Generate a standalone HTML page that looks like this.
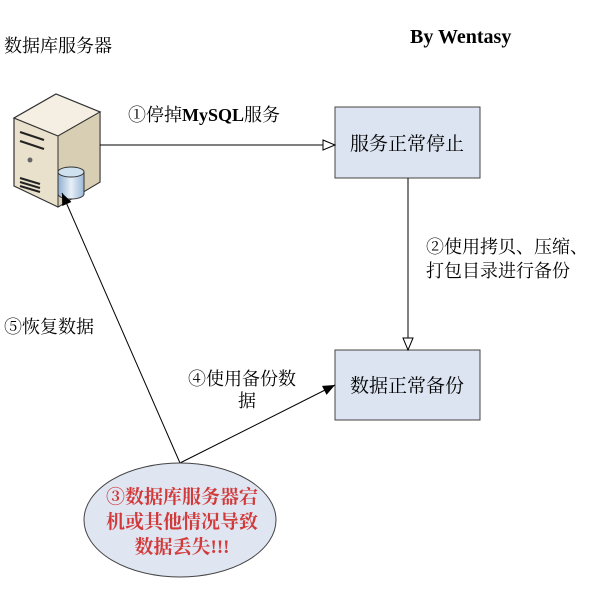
<!DOCTYPE html>
<html><head><meta charset="utf-8"><style>
body{margin:0;background:#fff;}
svg text{font-family:"Liberation Serif","Noto Serif CJK SC","Noto Sans CJK SC",serif;}
</style></head><body>
<svg width="600" height="600" viewBox="0 0 600 600" xmlns="http://www.w3.org/2000/svg">
<defs>
<linearGradient id="cyl" x1="0" x2="1"><stop offset="0" stop-color="#8fb0d0"/><stop offset="0.5" stop-color="#e8f0f8"/><stop offset="1" stop-color="#9ab8d6"/></linearGradient>
<marker id="open" markerWidth="14" markerHeight="12" refX="13" refY="6" orient="auto" markerUnits="userSpaceOnUse"><path d="M1,1 L13,6 L1,11 Z" fill="#fff" stroke="#000" stroke-width="1"/></marker>
<marker id="fill" markerWidth="14" markerHeight="12" refX="13" refY="6" orient="auto" markerUnits="userSpaceOnUse"><path d="M1,1 L13,6 L1,11 Z" fill="#000"/></marker>
</defs>
<text x="4" y="52" font-size="18" font-family="Noto Sans CJK SC,sans-serif">数据库服务器</text>
<text x="410" y="43" font-size="20" font-weight="bold">By Wentasy</text>
<!-- server -->
<path d="M14,118 L56,94 L100,112 L100,182 L58,207 L14,186 Z" fill="#e9e1cc" stroke="#333" stroke-width="1.2"/>
<path d="M14,118 L56,94 L100,112 L58,136 Z" fill="#f4efe2" stroke="#333" stroke-width="1.2"/>
<path d="M58,136 L100,112 L100,182 L58,207 Z" fill="#d8ceb4" stroke="#333" stroke-width="1"/>
<path d="M20,132 L44,140 M20,141 L44,149 M20,178 L40,184 M20,182 L40,188 M20,186 L40,192" stroke="#222" stroke-width="2"/>
<circle cx="30" cy="160" r="2.5" fill="#666"/>
<path d="M58,172 L58,194 A13,5 0 0 0 84,194 L84,172 Z" fill="url(#cyl)" stroke="#333"/>
<ellipse cx="71" cy="172" rx="13" ry="5" fill="#cfe0ef" stroke="#333"/>
<!-- boxes -->
<rect x="335" y="107" width="145" height="71" fill="#dbe4f0" stroke="#444"/>
<text x="407" y="150" font-size="19" text-anchor="middle" font-family="Noto Sans CJK SC,sans-serif">服务正常停止</text>
<rect x="335" y="350" width="145" height="70" fill="#dbe4f0" stroke="#444"/>
<text x="407" y="392" font-size="19" text-anchor="middle" font-family="Noto Sans CJK SC,sans-serif">数据正常备份</text>
<!-- connectors -->
<line x1="100" y1="145" x2="335" y2="145" stroke="#000" marker-end="url(#open)"/>
<line x1="408" y1="178" x2="408" y2="350" stroke="#000" marker-end="url(#open)"/>
<line x1="180" y1="463" x2="335" y2="385" stroke="#000" marker-end="url(#fill)"/>
<line x1="180" y1="463" x2="62" y2="193" stroke="#000" marker-end="url(#fill)"/>
<text x="128" y="121" font-size="18" font-family="Noto Sans CJK SC,sans-serif">①停掉<tspan font-family="Liberation Serif" font-weight="bold">MySQL</tspan>服务</text>
<text x="426" y="253" font-size="18" font-family="Noto Sans CJK SC,sans-serif">②使用拷贝、压缩、</text>
<text x="426" y="277" font-size="18" font-family="Noto Sans CJK SC,sans-serif">打包目录进行备份</text>
<text x="4" y="333" font-size="18" font-family="Noto Sans CJK SC,sans-serif">⑤恢复数据</text>
<text x="188" y="385" font-size="18" font-family="Noto Sans CJK SC,sans-serif">④使用备份数</text>
<text x="238" y="407" font-size="18" font-family="Noto Sans CJK SC,sans-serif">据</text>
<!-- ellipse -->
<ellipse cx="180" cy="520" rx="96" ry="57" fill="#dfe6f2" stroke="#444"/>
<g fill="#d23a3a" font-size="19" font-weight="bold" text-anchor="middle" font-family="Noto Sans CJK SC,sans-serif">
<text x="182" y="503">③数据库服务器宕</text>
<text x="182" y="528">机或其他情况导致</text>
<text x="182" y="553">数据丢失!!!</text>
</g>
</svg>
</body></html>
